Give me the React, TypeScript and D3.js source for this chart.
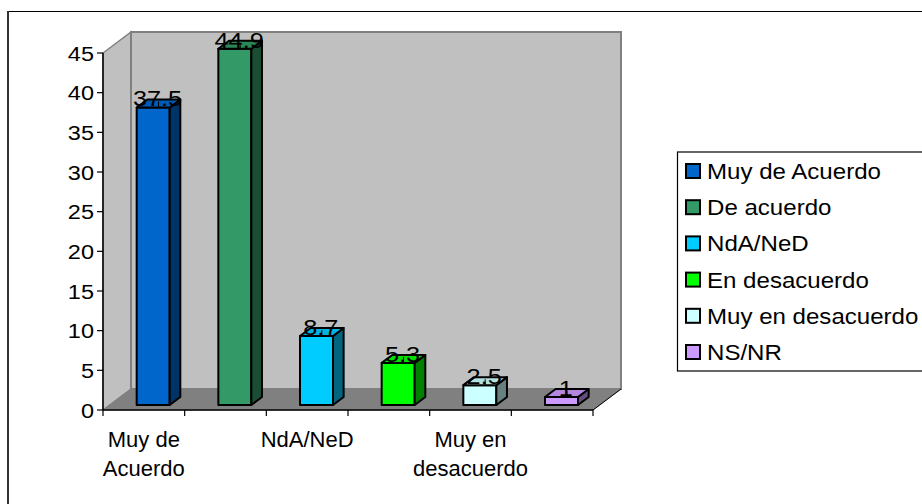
import React from "react";
import * as d3 from "d3";

const categories = ["Muy de Acuerdo", "De acuerdo", "NdA/NeD", "En desacuerdo", "Muy en desacuerdo", "NS/NR"];
const values = [37.5, 44.9, 8.7, 5.3, 2.5, 1];
const labels = ["37.5", "44.9", "8.7", "5.3", "2.5", "1"];
const frontColors = ["#0066CC", "#339966", "#00CCFF", "#00FF00", "#CCFFFF", "#CC99FF"];
const sideColors = ["#003366", "#1A4D33", "#006680", "#008000", "#668080", "#664D80"];
const topColors = ["#0059B3", "#2D8659", "#00B3E0", "#00DD00", "#B3E0E0", "#B386E0"];
const yTicks = [0, 5, 10, 15, 20, 25, 30, 35, 40, 45];
const xLabelIdx = [0, 2, 4];
const xLabelLines = [["Muy de", "Acuerdo"], ["NdA/NeD"], ["Muy en", "desacuerdo"]];

const FONT = "'Liberation Sans', Arial, sans-serif";

export default function App() {
  const x0 = 103, x1 = 593, yBase = 410, yTop = 53;
  const DX = 28, DY = -21;
  const x = d3.scaleBand<string>().domain(categories).range([x0, x1]);
  const y = d3.scaleLinear().domain([0, 45]).range([yBase, yTop]);
  const step = x.step();
  const f0 = 0.24, f1 = 0.62;
  const bw = 33;

  const wallTop = yTop + DY;
  const backLeft = x0 + DX;
  const backRight = x1 + DX;
  const floorBack = yBase + DY;

  return (
    <svg width={922} height={504} style={{ position: "absolute", left: 0, top: 0, background: "#fff" }} fontFamily={FONT}>
      <rect x={0} y={0} width={922} height={504} fill="#fff" />
      {/* outer frame */}
      <line x1={8} y1={11.5} x2={922} y2={11.5} stroke="#000" strokeWidth={1.2} />
      <line x1={8} y1={11} x2={8} y2={504} stroke="#333" strokeWidth={2} />

      {/* left wall */}
      <polygon points={`${x0},${yBase} ${x0},${yTop} ${backLeft},${wallTop} ${backLeft},${floorBack}`} fill="#C0C0C0" stroke="#808080" strokeWidth={1.5} />
      {/* back wall */}
      <rect x={backLeft} y={wallTop} width={backRight - backLeft} height={floorBack - wallTop} fill="#C0C0C0" stroke="#808080" strokeWidth={2} />
      {/* floor */}
      <polygon points={`${x0},${yBase} ${x1},${yBase} ${backRight},${floorBack} ${backLeft},${floorBack}`} fill="#808080" stroke="#808080" strokeWidth={1} />
      <line x1={x1} y1={yBase} x2={backRight} y2={floorBack} stroke="#000" strokeWidth={1} />

      {/* bars */}
      {categories.map((c, i) => {
        const fx = (x(c) as number) + step * 0.33 + DX * f0;
        const by = yBase + DY * f0;
        const ty = by - (yBase - y(values[i]));
        const ddx = DX * (f1 - f0), ddy = DY * (f1 - f0);
        const cx = fx + bw / 2 + ddx / 2;
        return (
          <g key={c}>
            <rect x={fx} y={ty} width={bw} height={by - ty} fill={frontColors[i]} stroke="#000" strokeWidth={2} strokeLinejoin="round" />
            <polygon points={`${fx + bw},${by} ${fx + bw},${ty} ${fx + bw + ddx},${ty + ddy} ${fx + bw + ddx},${by + ddy}`} fill={sideColors[i]} stroke="#000" strokeWidth={2} strokeLinejoin="round" />
            <polygon points={`${fx},${ty} ${fx + bw},${ty} ${fx + bw + ddx},${ty + ddy} ${fx + ddx},${ty + ddy}`} fill={topColors[i]} stroke="#000" strokeWidth={2} strokeLinejoin="round" />
            <line x1={cx} y1={ty + ddy / 2 - 2} x2={cx} y2={ty + ddy / 2 + 4} stroke="#000" strokeWidth={1} />
            <g transform={`translate(${cx - 1},${ty - 1}) scale(1.15,1)`}>
              <text x={0} y={0} textAnchor="middle" fontSize={22} fill="#000">{labels[i]}</text>
            </g>
          </g>
        );
      })}

      {/* y axis */}
      <line x1={x0} y1={yTop} x2={x0} y2={yBase} stroke="#000" strokeWidth={1.5} />
      {yTicks.map((t) => (
        <g key={t}>
          <line x1={x0 - 6} y1={y(t)} x2={x0} y2={y(t)} stroke="#000" strokeWidth={1.2} />
          <g transform={`translate(${x0 - 9},${y(t) + 7.5}) scale(1.12,1)`}>
            <text x={0} y={0} textAnchor="end" fontSize={21} fill="#000">{t}</text>
          </g>
        </g>
      ))}

      {/* x axis */}
      <line x1={x0} y1={yBase} x2={x1} y2={yBase} stroke="#000" strokeWidth={1.5} />
      {d3.range(categories.length + 1).map((k) => (
        <line key={k} x1={x0 + k * step} y1={yBase} x2={x0 + k * step} y2={yBase + 6} stroke="#000" strokeWidth={1.2} />
      ))}
      {xLabelIdx.map((ci, j) => {
        const cx = (x(categories[ci]) as number) + step / 2;
        return (
          <text key={ci} textAnchor="middle" fontSize={22} fill="#000">
            {xLabelLines[j].map((ln, k) => (
              <tspan key={k} x={cx} y={447 + k * 29}>{ln}</tspan>
            ))}
          </text>
        );
      })}

      {/* legend */}
      <rect x={677.5} y={152} width={260} height={219} fill="#fff" stroke="#000" strokeWidth={1.2} />
      {categories.map((c, i) => {
        const cy = 171 + i * 36.2;
        return (
          <g key={c}>
            <rect x={686} y={cy - 7} width={14} height={14} fill={frontColors[i]} stroke="#000" strokeWidth={2} />
            <g transform={`translate(707,${cy + 8}) scale(1.12,1)`}>
              <text x={0} y={0} fontSize={21.5} fill="#000">{c}</text>
            </g>
          </g>
        );
      })}
    </svg>
  );
}
